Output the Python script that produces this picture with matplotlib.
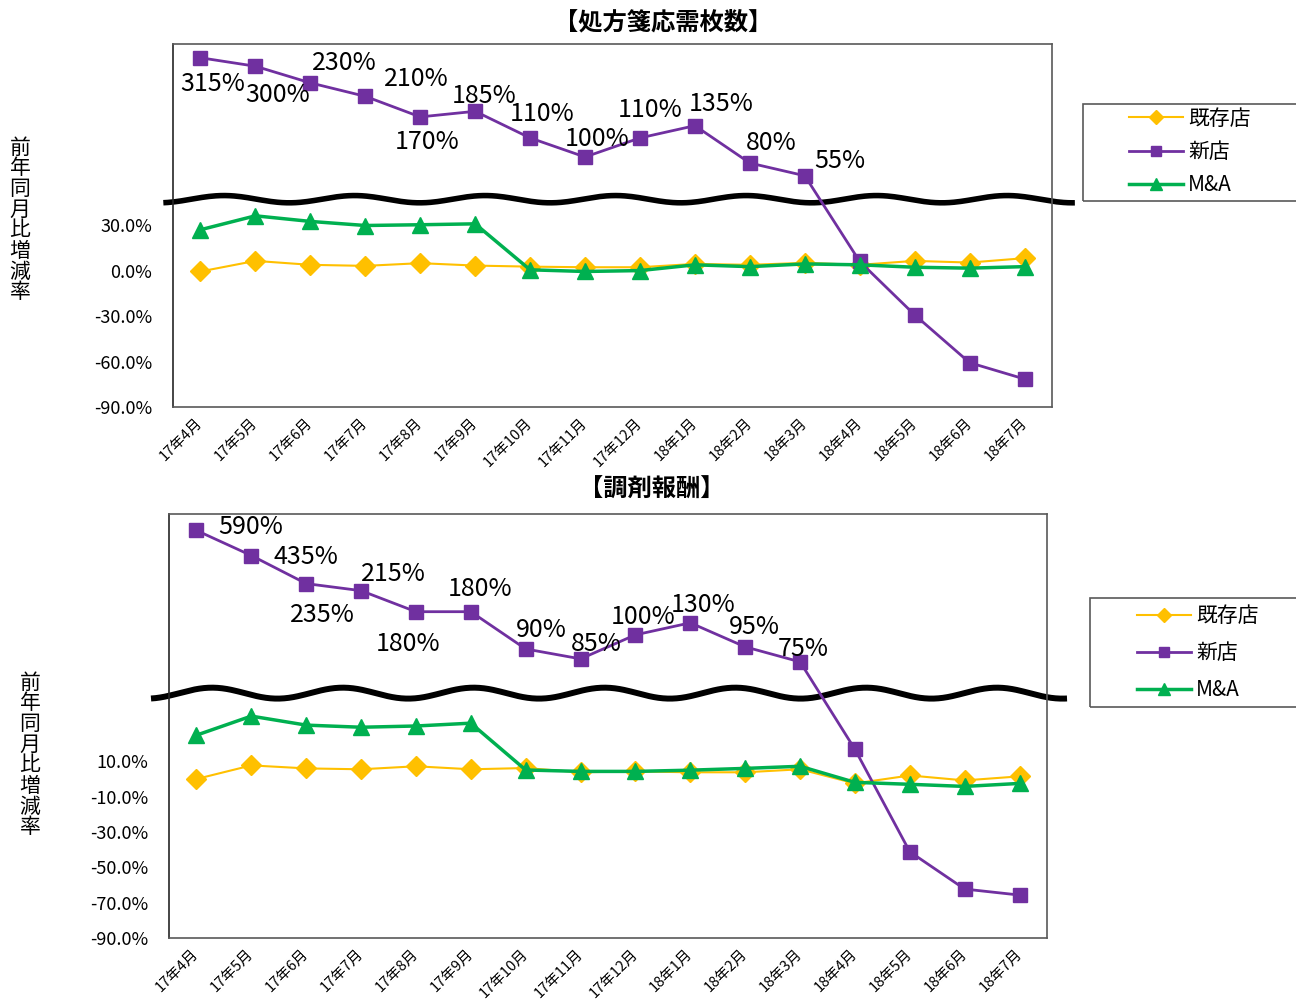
import numpy as np
import matplotlib
matplotlib.use("Agg")
import matplotlib.pyplot as plt
from matplotlib.transforms import blended_transform_factory
from matplotlib.patches import Rectangle

plt.rcParams['font.family'] = ['Noto Sans CJK JP', 'DejaVu Sans']

months = ['17年4月', '17年5月', '17年6月', '17年7月', '17年8月', '17年9月',
          '17年10月', '17年11月', '17年12月', '18年1月', '18年2月', '18年3月',
          '18年4月', '18年5月', '18年6月', '18年7月']
series_names = ['既存店', '新店', 'M&A']

# --- 処方箋応需枚数 (values in the chart's axis scale, %)
rx_existing = [-0.4, 6.6, 4.0, 3.3, 5.1, 3.5, 2.8, 2.4, 2.4, 4.6, 4.0, 5.3, 4.0, 6.6, 5.5, 8.4]
rx_new = [140.9, 135.3, 124.3, 115.4, 101.8, 105.5, 87.9, 75.3, 87.9, 96.0, 71.3, 62.9, 6.2, -29.1, -60.7, -71.5]
rx_ma = [27.2, 36.4, 32.7, 30.0, 30.5, 31.1, 0.7, -0.4, 0.2, 4.0, 2.8, 4.6, 4.0, 2.4, 1.8, 2.8]
rx_new_labels = ['315%', '300%', '230%', '210%', '170%', '185%', '110%', '100%', '110%', '135%', '80%', '55%']
rx_yticks = [-90, -60, -30, 0, 30]

# --- 調剤報酬
fee_existing = [0.0, 7.7, 6.0, 5.5, 7.2, 5.5, 6.2, 3.8, 4.3, 3.8, 3.8, 5.5, -2.5, 2.0, -0.8, 1.5]
fee_new = [140.7, 126.5, 110.6, 106.6, 94.7, 94.7, 73.6, 68.0, 81.6, 88.4, 74.8, 66.3, 16.8, -41.2, -62.3, -65.7]
fee_ma = [24.8, 35.6, 30.5, 29.3, 30.0, 31.6, 5.1, 4.3, 4.3, 5.0, 6.0, 7.2, -1.9, -3.0, -4.2, -2.5]
fee_new_labels = ['590%', '435%', '235%', '215%', '180%', '180%', '90%', '85%', '100%', '130%', '95%', '75%']
fee_yticks = [-90, -70, -50, -30, -10, 10]

YELLOW, PURPLE, GREEN = '#FFC000', '#7030A0', '#00B050'

W, H = 1296, 1000
fig = plt.figure(figsize=(W / 100, H / 100), dpi=100)


def px_axes(l, t, r, b):
    return fig.add_axes([l / W, 1 - b / H, (r - l) / W, (b - t) / H])


def draw_panel(ax, existing, new, ma, labels, offsets, yticks, wave, title, title_xy,
               ylabel_xy, legend_box, legend_anchor, legend_spacing):
    x = np.arange(len(months))
    ax.plot(x, existing, color=YELLOW, lw=1.5, marker='D', ms=10, mec=YELLOW,
            label=series_names[0], zorder=3)
    ax.plot(x, new, color=PURPLE, lw=2.0, marker='s', ms=10.5, mec=PURPLE,
            label=series_names[1], zorder=4)
    ax.plot(x, ma, color=GREEN, lw=2.5, marker='^', ms=11, mec=GREEN,
            label=series_names[2], zorder=5)
    for i, (lab, (dx, dy)) in enumerate(zip(labels, offsets)):
        ax.annotate(lab, (x[i], new[i]), xytext=(dx, -dy), textcoords='offset pixels',
                    ha='center', va='center', fontsize=18, color='black', zorder=6)
    ax.set_xlim(-0.5, len(months) - 0.5)
    ax.set_ylim(-90, 150)
    ax.set_yticks(yticks)
    ax.set_yticklabels([f'{v:.1f}%' for v in yticks], fontsize=13)
    ax.set_xticks(x)
    ax.set_xticklabels(months, rotation=45, ha='right', va='center',
                       rotation_mode='anchor', fontsize=10.5)
    ax.tick_params(axis='y', length=0, pad=15)
    ax.tick_params(axis='x', length=0, pad=10)
    for s in ax.spines.values():
        s.set_color('#595959')
        s.set_linewidth(1.2)
    ax.spines['left'].set_color('#262626')
    # wavy break line
    x0, x1, xp, per, yc, amp, lw = wave
    tr = blended_transform_factory(ax.transAxes, ax.transData)
    xs = np.linspace(x0, x1, 400)
    ys = yc + amp * np.cos(2 * np.pi * (xs - xp) / per)
    ax.plot(xs, ys, color='black', lw=lw, transform=tr, clip_on=False, zorder=2,
            solid_capstyle='butt')
    fig.text(title_xy[0] / W, 1 - title_xy[1] / H, title, ha='center', va='center',
             fontsize=17.5, fontweight='bold')
    fig.text(ylabel_xy[0] / W, 1 - ylabel_xy[1] / H, '\n'.join('前年同月比増減率'),
             ha='center', va='center', fontsize=15, linespacing=0.92)
    l, t, r, b = legend_box
    fig.patches.append(Rectangle((l / W, 1 - b / H), (r - l) / W, (b - t) / H,
                                 transform=fig.transFigure, fill=False,
                                 edgecolor='#595959', lw=1.2))
    ax.legend(loc='center left', bbox_to_anchor=(legend_anchor[0] / W, 1 - legend_anchor[1] / H),
              bbox_transform=fig.transFigure, frameon=False, fontsize=15,
              handlelength=2.6, handletextpad=0.25, borderpad=0, borderaxespad=0,
              labelspacing=legend_spacing, markerscale=0.75)


ax1 = px_axes(173, 44, 1052, 407)
draw_panel(ax1, rx_existing, rx_new, rx_ma, rx_new_labels,
           [(12, 26), (22, 29), (34, -20), (51, -17), (7, 25), (9, -15),
            (12, -24), (12, -18), (10, -28), (26, -22), (21, -20), (35, -15)],
           rx_yticks, (-0.011, 1.026, 0.058, 0.1485, 47.4, 2.4, 4.0),
           '【処方箋応需枚数】', (663, 22), (20, 220),
           (1083, 104, 1302, 201), (1129, 152), 0.55)

ax2 = px_axes(169, 514, 1047, 938)
draw_panel(ax2, fee_existing, fee_new, fee_ma, fee_new_labels,
           [(54, -3), (55, 1), (16, 31), (32, -17), (-8, 32), (9, -23),
            (16, -19), (16, -15), (8, -18), (13, -18), (9, -20), (3, -13)],
           fee_yticks, (-0.0205, 1.0228, 0.049, 0.149, 48.6, 3.1, 4.3),
           '【調剤報酬】', (652, 490), (30, 755),
           (1090, 598, 1302, 707), (1137, 653), 0.72)

fig.savefig('out.png', dpi=100)
